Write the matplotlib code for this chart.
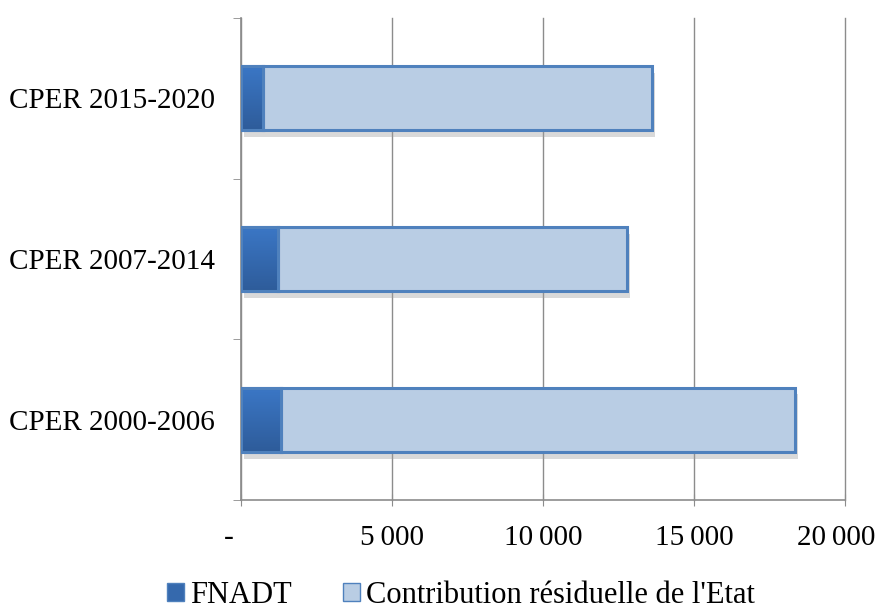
import matplotlib.pyplot as plt
import matplotlib.patheffects as pe
import matplotlib.transforms as mtransforms
import numpy as np
from matplotlib.colors import LinearSegmentedColormap

plt.rcParams['font.family'] = ['Liberation Serif', 'DejaVu Serif']

periodes = ['CPER 2000-2006', 'CPER 2007-2014', 'CPER 2015-2020']
fnadt = [1330, 1220, 730]
contribution = [17010, 11560, 12880]
xticks = [0, 5000, 10000, 15000, 20000]
xlabels = ['-', '5\u2009000', '10\u2009000', '15\u2009000', '20\u2009000']

bleu_fonce = '#3569ad'
bleu_clair = '#b9cde4'
bord = '#4f81bd'

fig = plt.figure(figsize=(8.78, 6.1), dpi=100)
ax = fig.add_axes([0.2745, 0.1803, 0.6879, 0.7902])

y = np.arange(len(periodes))
h = 0.4
ombre = [pe.SimplePatchShadow(offset=(2, -5), shadow_rgbFace='#a0a0a0', alpha=0.4), pe.Normal()]

b1 = ax.barh(y, fnadt, height=h, color=bleu_fonce, edgecolor=bord, linewidth=2.2,
             label='FNADT', zorder=3, path_effects=ombre)
b2 = ax.barh(y, contribution, left=fnadt, height=h, color=bleu_clair, edgecolor=bord,
             linewidth=2.2, label="Contribution résiduelle de l'Etat", zorder=3,
             path_effects=ombre)

# degrade sur les barres FNADT
cmap = LinearSegmentedColormap.from_list('fnadt', ['#2e5c9a', '#3b77c6'])
grad = np.linspace(0, 1, 100).reshape(-1, 1)
for rect in b1:
    x0, y0 = rect.get_x(), rect.get_y()
    im = ax.imshow(grad, cmap=cmap, aspect='auto', origin='lower',
                   extent=[x0, x0 + rect.get_width(), y0, y0 + rect.get_height()], zorder=3.5)
    im.set_clip_path(rect)
    r = plt.Rectangle((x0, y0), rect.get_width(), rect.get_height(), fill=False,
                      edgecolor=bord, linewidth=2.2, zorder=4)
    ax.add_patch(r)

ax.set_xlim(0, 20000)
ax.set_ylim(-0.5, 2.5)
ax.set_xticks(xticks)
ax.set_xticklabels(xlabels, fontsize=21)
ax.set_yticks(y)
ax.set_yticklabels(periodes, fontsize=21)
ax.tick_params(axis='y', length=0, pad=19)
ax.set_yticks([-0.5, 0.5, 1.5, 2.5], minor=True)
ax.tick_params(axis='y', which='minor', length=6, color='#8c8c8c', direction='out')
ax.tick_params(axis='x', length=8, color='#8c8c8c', direction='inout', pad=14)

# petits decalages des labels extremes, comme dans l'original
labs = ax.get_xticklabels()
labs[0].set_transform(labs[0].get_transform() + mtransforms.ScaledTranslation(-12 / 100, 0, fig.dpi_scale_trans))
labs[-1].set_transform(labs[-1].get_transform() + mtransforms.ScaledTranslation(-9 / 100, 0, fig.dpi_scale_trans))

ax.grid(axis='x', color='#8c8c8c', linewidth=1, zorder=0)
for gl in ax.get_xgridlines():
    gl.set_clip_on(False)
ax.set_axisbelow(True)
for s in ['top', 'right']:
    ax.spines[s].set_visible(False)
for s in ['left', 'bottom']:
    ax.spines[s].set_color('#8c8c8c')
    ax.spines[s].set_linewidth(1.2)

leg = fig.legend(handles=[b1, b2], loc='lower center', bbox_to_anchor=(0.525, -0.045),
                 ncol=2, frameon=False, fontsize=22, handlelength=0.55, handleheight=0.55,
                 handletextpad=0.2, columnspacing=1.7)
for hnd in leg.legend_handles:
    hnd.set_linewidth(1)
    hnd.set_path_effects([])

fig.savefig('out.png', dpi=100)
